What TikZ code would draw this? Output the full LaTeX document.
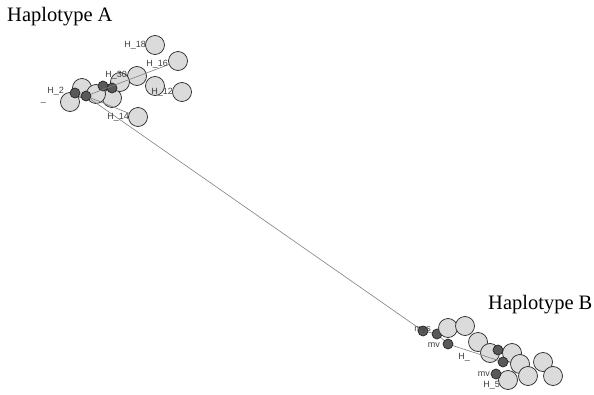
\documentclass[tikz,border=0pt]{standalone}
\usepackage{fontspec}
\setmainfont{Liberation Serif}
\newfontfamily\labfont{Liberation Sans}
\begin{document}
\begin{tikzpicture}[x=1pt,y=-1pt,
  hap/.style={circle,draw=black!85,line width=0.7pt,fill=black!14,minimum size=19pt,inner sep=0pt},
  dark/.style={circle,draw=black!85,line width=0.7pt,fill=black!65,minimum size=10pt,inner sep=0pt},
  lab/.style={font=\labfont\fontsize{9}{9}\selectfont,text=black!75,inner sep=0pt},
  edge/.style={draw=black!50,line width=0.6pt},
  title/.style={font=\fontsize{20.5}{20.5}\selectfont,inner sep=0pt}]
\useasboundingbox (0,0) rectangle (594,395);
% titles
\node[title,anchor=west] (tA) at (7,17) {Haplotype A};
\node[title,anchor=west] (tB) at (488,305) {Haplotype B};
% cluster A
\node[hap] (a18) at (155,45) {};
\node[hap] (a16) at (178,61) {};
\node[hap] (a30) at (137,76) {};
\node[hap] (a12b) at (155,86) {};
\node[hap] (a12) at (182,92) {};
\node[hap] (a14) at (138,117) {};
\node[hap] (a5) at (112,98) {};
\node[hap] (a6) at (120,82) {};
\node[hap] (a4) at (70,102) {};
\node[hap] (a3) at (82,88) {};
\node[hap] (a7) at (96,94) {};
\node[dark] (ad1) at (86,96) {};
\node[dark] (ad2) at (103,86) {};
\node[dark] (ad3) at (75,93) {};
\node[dark] (ad4) at (112,88) {};
% cluster B
\node[dark] (bd1) at (423,331) {};
\node[dark] (bd2) at (437,334) {};
\node[hap] (b1) at (448,328) {};
\node[hap] (b2) at (465,326) {};
\node[dark] (bd3) at (448,344) {};
\node[hap] (b3) at (478,342) {};
\node[hap] (b4) at (490,353) {};
\node[hap] (b5) at (512,353) {};
\node[hap] (b6) at (520,364) {};
\node[hap] (b7) at (543,362) {};
\node[hap] (b8) at (553,376) {};
\node[hap] (b9) at (528,376) {};
\node[hap] (b10) at (508,380) {};
\node[dark] (bd4) at (498,350) {};
\node[dark] (bd5) at (496,374) {};
\node[dark] (bd6) at (503,362) {};
% connectors
\draw[edge] (ad1) -- (bd1);
\draw[edge] (ad1) -- (a16);
\draw[edge] (ad1) -- (a14);
\draw[edge] (bd1) -- (bd2);
\draw[edge] (bd2) -- (bd3);
\draw[edge] (bd3) -- (bd6);
% labels A
\node[lab,anchor=east] (l18) at (146,45) {H\_18};
\node[lab,anchor=east] (l16) at (168,64) {H\_16};
\node[lab,anchor=east] (l30) at (127,75) {H\_30};
\node[lab,anchor=east] (l12) at (173,92) {H\_12};
\node[lab,anchor=east] (l14) at (129,117) {H\_14};
\node[lab,anchor=east] (l2) at (64,91) {H\_2};
\node[lab,anchor=east] (l1) at (46,102) {\_};
% labels B
\node[lab,anchor=east] (lm1) at (431,330) {mys};
\node[lab,anchor=east] (lm2) at (440,345) {mv};
\node[lab,anchor=east] (lh1) at (470,357) {H\_};
\node[lab,anchor=east] (lm3) at (490,374) {mv};
\node[lab,anchor=east] (lh2) at (500,385) {H\_5};
\end{tikzpicture}
\end{document}
